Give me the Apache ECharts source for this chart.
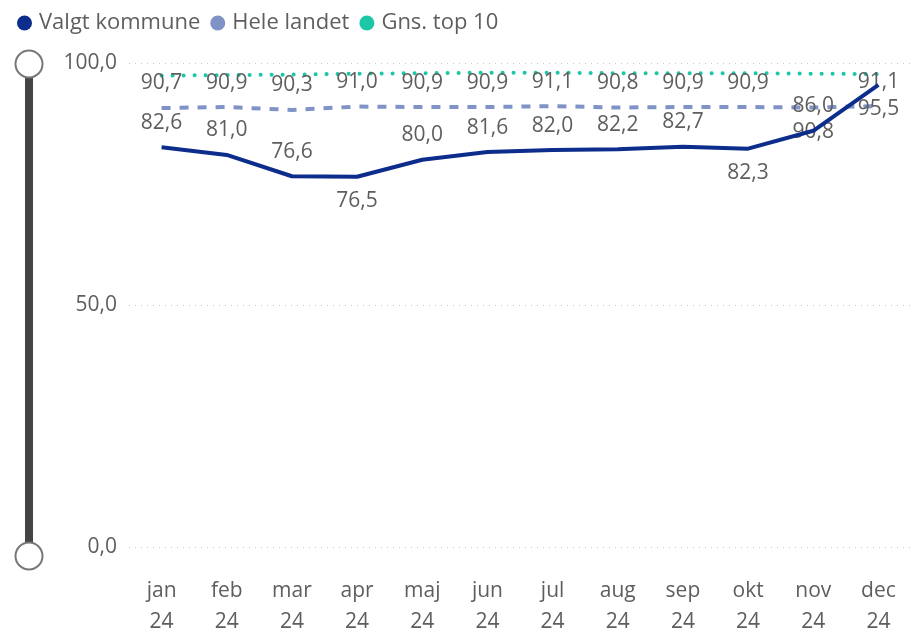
<!DOCTYPE html>
<html>
<head>
<meta charset="utf-8">
<script src="https://cdn.jsdelivr.net/npm/echarts@6/dist/echarts.min.js"></script>
<style>
html,body{margin:0;padding:0;background:#fff;}
#chart{width:911px;height:638px;}
</style>
</head>
<body>
<div id="chart"></div>
<script>
const categories = ['jan 24','feb 24','mar 24','apr 24','maj 24','jun 24','jul 24','aug 24','sep 24','okt 24','nov 24','dec 24'];
const valgtKommune = [82.6, 81.0, 76.6, 76.5, 80.0, 81.6, 82.0, 82.2, 82.7, 82.3, 86.0, 95.5];
const heleLandet = [90.7, 90.9, 90.3, 91.0, 90.9, 90.9, 91.1, 90.8, 90.9, 90.9, 90.8, 91.1];
const gnsTop10 = [97.4, 97.5, 97.6, 97.8, 97.9, 98.0, 98.0, 97.9, 97.9, 97.9, 97.8, 97.7];
const yMin = 0, yMax = 100, yInterval = 50;

// indices whose data labels sit below the point
const valgtBelow = [3, 9, 11];
const heleBelow = [10];

const FONT = '"Open Sans", "Noto Sans", sans-serif';
const TXT = '#605E5C';
const fmt = v => v.toFixed(1).replace('.', ',');

function withLabels(values, below) {
  return values.map((v, i) => below.includes(i)
    ? { value: v, label: { position: 'bottom' } }
    : v);
}

const chart = echarts.init(document.getElementById('chart'));
chart.setOption({
  animation: false,
  textStyle: { fontFamily: FONT },
  legend: {
    left: 12, top: 7,
    icon: 'circle', itemWidth: 15, itemHeight: 15, itemGap: 10,
    textStyle: { color: TXT, fontSize: 22, fontFamily: FONT, padding: [0, 0, 0, 2] },
    data: ['Valgt kommune', 'Hele landet', 'Gns. top 10']
  },
  grid: { left: 129, right: -7, top: 63, bottom: 81, containLabel: false },
  xAxis: {
    type: 'category', data: categories, boundaryGap: true,
    axisLine: { show: false }, axisTick: { show: false },
    axisLabel: {
      color: TXT, fontSize: 21, fontFamily: FONT, lineHeight: 31, margin: 29,
      formatter: v => v.replace(' ', '\n')
    }
  },
  yAxis: {
    type: 'value', min: yMin, max: yMax, interval: yInterval,
    axisLine: { show: false }, axisTick: { show: false },
    axisLabel: { color: TXT, fontSize: 21, fontFamily: FONT, margin: 12, padding: [5, 0, 0, 0], formatter: v => fmt(v) },
    splitLine: { lineStyle: { color: '#C8C6C4', type: [1, 5], width: 1 } }
  },
  dataZoom: [{
    type: 'slider', orient: 'vertical', yAxisIndex: 0, filterMode: 'none',
    left: 24, width: 8, top: 63, bottom: 81,
    start: 0, end: 100,
    showDetail: false, showDataShadow: false, brushSelect: false,
    backgroundColor: 'rgba(0,0,0,0)', borderColor: 'rgba(0,0,0,0)',
    fillerColor: '#444444',
    dataBackground: { lineStyle: { opacity: 0 }, areaStyle: { opacity: 0 } },
    selectedDataBackground: { lineStyle: { opacity: 0 }, areaStyle: { opacity: 0 } },
    handleIcon: 'circle', handleSize: 27,
    handleStyle: { color: '#ffffff', borderColor: '#777777', borderWidth: 2 },
    moveHandleSize: 0,
    moveHandleStyle: { opacity: 0 },
    emphasis: { handleStyle: { color: '#ffffff', borderColor: '#777777', borderWidth: 2 }, moveHandleStyle: { opacity: 0 } }
  }],
  series: [
    {
      name: 'Valgt kommune', type: 'line', z: 5,
      data: withLabels(valgtKommune, valgtBelow),
      symbol: 'circle', symbolSize: 0, showSymbol: true,
      itemStyle: { color: '#0D2D8C' },
      lineStyle: { color: '#0D2D8C', width: 4 },
      label: { show: true, position: 'top', distance: 14, color: TXT, fontSize: 21, fontFamily: FONT, formatter: p => fmt(p.value) },
      labelLayout: { hideOverlap: false }
    },
    {
      name: 'Hele landet', type: 'line', z: 4,
      data: withLabels(heleLandet, heleBelow),
      symbol: 'circle', symbolSize: 0, showSymbol: true,
      itemStyle: { color: '#7F93C6' },
      lineStyle: { color: '#7F93C6', width: 4, type: [9, 9] },
      label: { show: true, position: 'top', distance: 14, color: TXT, fontSize: 21, fontFamily: FONT, formatter: p => fmt(p.value) },
      labelLayout: { hideOverlap: false }
    },
    {
      name: 'Gns. top 10', type: 'line', z: 3,
      data: gnsTop10,
      symbol: 'none',
      itemStyle: { color: '#1CC7A8' },
      lineStyle: { color: '#1CC7A8', width: 4, type: [0.1, 10.9], cap: 'round' }
    }
  ]
});
</script>
</body>
</html>
